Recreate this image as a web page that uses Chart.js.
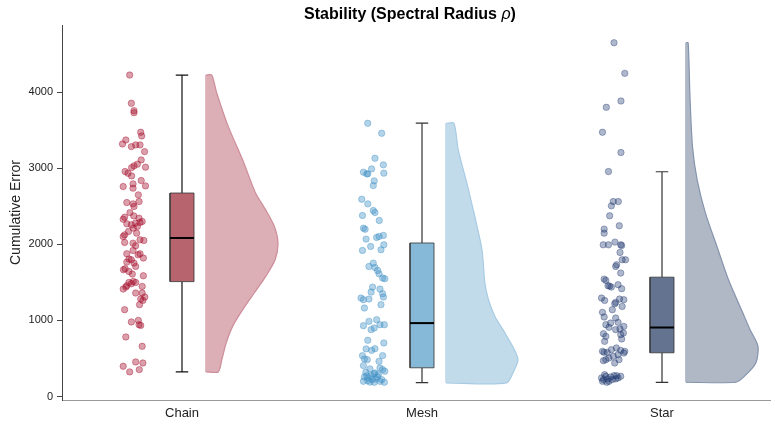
<!DOCTYPE html>
<html>
<head>
<meta charset="utf-8">
<script src="https://cdn.jsdelivr.net/npm/chart.js@4.4.1/dist/chart.umd.min.js"></script>
<style>
  body { margin: 0; background: #fff; }
  canvas { display: block; }
</style>
</head>
<body>
<canvas id="rain" width="775" height="424"></canvas>
<script>
const categories = ["Chain", "Mesh", "Star"]
const yTicks = [0, 1000, 2000, 3000, 4000]

// raw points (value) with horizontal jitter read from the strip
const chainVals = [4223,3852,3755,3728,3471,3423,3370,3318,3283,3305,3305,3217,3108,3052,3030,3007,3013,2955,2933,2898,
  2837,2793,2758,2737,2767,2649,2548,2531,2561,2496,2416,2356,2373,2343,2329,2269,2256,2278,2286,2299,2234,2212,2168,2124,
  2102,2146,2059,2050,2024,2015,1980,1875,1919,1862,1875,1819,1806,1797,1766,1753,1709,1666,1679,1643,1609,1587,1499,1512,
  1499,1482,1456,1412,1438,1447,1360,1360,1307,1281,1263,1207,1141,980,1001,944,935,783,660,398,324,455,441,354]
const chainJit = [-0.018,-0.011,0,0,0.028,0.032,-0.034,-0.048,-0.011,0.007,0.025,0.044,0.030,0.014,0,-0.010,0.048,-0.037,-0.025,-0.010,
  0.030,-0.004,-0.045,-0.004,0.048,0.018,-0.030,-0.004,0.021,0,-0.017,-0.039,-0.001,0.021,-0.045,-0.030,-0.011,0.006,0.025,0.034,
  0.014,-0.003,-0.023,-0.039,-0.045,0.011,0.025,0.041,-0.039,-0.004,0.007,-0.030,-0.004,0.017,0.025,0.039,-0.021,-0.011,-0.030,0,
  0.007,-0.044,-0.037,-0.021,-0.007,0.039,-0.021,-0.003,0.007,-0.011,-0.030,-0.045,-0.034,0.034,0.034,0.007,0.045,0.028,0.037,0.023,
  -0.039,-0.011,0.018,0.021,0.028,-0.034,0.034,-0.045,-0.018,0.007,0.037,0.022]

const meshVals = [3589,3458,3130,3043,2990,2947,2925,2925,2934,2833,2771,2592,2531,2443,2417,2378,2312,2212,2198,2068,
  2090,2103,2116,1972,1919,1928,1993,1753,1709,1696,1656,1613,1557,1548,1438,1373,1412,1351,1307,1294,1272,1281,1207,1163,
  931,988,879,901,1010,944,944,739,704,626,607,629,538,494,538,485,407,463,363,376,354,319,310,288,332,258,245,223,232,
  201,223,188,188,275,275,300,260,210,200,190]
const meshJit = [-0.026,0.032,0.004,0.039,-0.010,-0.044,-0.030,-0.026,0.041,0.001,-0.003,-0.051,-0.026,-0.003,0.004,-0.048,0.022,-0.044,-0.037,-0.033,
  0.011,0.021,0.039,-0.014,-0.048,0.029,0.041,-0.003,-0.021,0.004,0.015,0.021,0.036,0.045,-0.006,-0.012,0.025,0.036,0.039,-0.054,
  -0.044,-0.021,0.029,-0.040,-0.044,-0.021,-0.012,0.001,0.011,0.025,0.043,-0.026,0.041,-0.033,-0.010,0.004,-0.048,-0.040,0.036,-0.028,
  -0.044,0.021,-0.017,0.025,0.036,-0.034,0.004,0.018,0.045,-0.040,-0.023,-0.007,0.008,-0.044,0.032,0.001,0.043,-0.030,-0.012,0,
  0.015,-0.026,0.025,-0.017]

const starVals = [4647,4245,3882,3799,3471,3205,2955,2561,2561,2505,2374,2243,2199,2146,1993,1993,2029,1993,1984,1893,
  1797,1797,1731,1709,1622,1543,1526,1456,1438,1469,1417,1451,1294,1263,1237,1281,1272,1184,1220,1141,1106,1045,944,966,
  1032,975,922,835,888,879,909,826,791,725,813,757,594,581,581,616,639,607,594,572,551,529,507,485,441,485,472,245,223,
  266,232,258,275,245,266,201,188,223,232,288,201,275]
const starJit = [0,0.045,0.029,-0.032,-0.048,0.029,-0.023,-0.003,0.018,-0.011,-0.018,0.022,-0.041,-0.041,-0.045,-0.023,0.004,0.028,0.032,0.025,
  0.034,0.048,0.011,0.007,0.028,-0.041,-0.034,-0.025,-0.011,0.017,0.032,-0.018,-0.052,-0.039,0.007,0.023,0.041,0.034,0.003,-0.007,
  -0.048,-0.041,-0.034,-0.014,0.007,0.017,0.041,0.039,0.025,0.007,-0.021,-0.044,-0.034,-0.039,0.028,0.032,-0.048,-0.041,-0.028,-0.011,
  0.010,0.028,0.045,0.041,0.017,-0.003,-0.021,0.021,0.003,-0.034,-0.044,-0.052,-0.044,-0.034,-0.025,-0.014,0,0.017,0.028,-0.048,
  -0.030,-0.007,0.007,-0.039,-0.021,0.011]

// box stats per group
const whiskerLo = [324, 182, 186]
const q1 = [1510, 378, 575]
const median = [2083, 965, 907]
const q3 = [2673, 2017, 1568]
const whiskerHi = [4223, 3591, 2953]

// half violin outline: value grid and relative width
const chainKdeY = [4223,3983,3545,3108,2671,2452,2234,2015,1797,1578,1360,1141,922,704,485,324]
const chainKdeW = [0.08,0.15,0.31,0.51,0.69,0.83,0.95,1.0,0.96,0.83,0.67,0.51,0.37,0.28,0.22,0.17]
const meshKdeY = [3589,3239,2802,2365,1928,1491,1272,1053,835,616,485,354,180]
const meshKdeW = [0.11,0.17,0.29,0.40,0.50,0.54,0.59,0.68,0.82,0.95,1.0,0.95,0.84]
const starKdeY = [4647,3939,3283,2846,2409,1971,1534,1098,879,660,442,266,188]
const starKdeW = [0.03,0.055,0.09,0.155,0.27,0.43,0.59,0.79,0.89,1.0,0.97,0.81,0.69]

const pointCol = ["165,15,45", "66,146,198", "30,55,110"]
const pointAlpha = [0.4, 0.4, 0.36]
const boxCol = ["#b8646f", "#86b9d8", "#637390"]
const violinFill = ["#dcaeb6", "#c2dbeb", "#b0b8c6"]
const violinEdge = ["#cd8d99", "#a8cbe3", "#8594ad"]

const groups = [
  {vals: chainVals, jit: chainJit, ky: chainKdeY, kw: chainKdeW},
  {vals: meshVals, jit: meshJit, ky: meshKdeY, kw: meshKdeW},
  {vals: starVals, jit: starJit, ky: starKdeY, kw: starKdeW}
]

const FONT = "'Liberation Sans', Arial, sans-serif"
Chart.defaults.font.family = FONT

const boxHalf = 0.05, capHalf = 0.026, violinStart = 0.1, violinWidth = 0.3, stripOff = -0.2
const gap = {x: NaN, y: NaN}

const datasets = []
groups.forEach((g, i) => {
  // box + whiskers + median on top
  datasets.push({
    label: "median" + i, order: 0, showLine: true, pointRadius: 0, borderColor: "#000", borderWidth: 2,
    data: [{x: i - boxHalf, y: median[i]}, {x: i + boxHalf, y: median[i]}]
  })
  datasets.push({
    label: "box" + i, order: 1, showLine: true, pointRadius: 0, fill: "shape",
    backgroundColor: boxCol[i], borderColor: "rgba(60,60,60,0.85)", borderWidth: 1,
    data: [{x: i - boxHalf, y: q1[i]}, {x: i + boxHalf, y: q1[i]}, {x: i + boxHalf, y: q3[i]},
           {x: i - boxHalf, y: q3[i]}, {x: i - boxHalf, y: q1[i]}]
  })
  datasets.push({
    label: "whisk" + i, order: 2, showLine: true, pointRadius: 0, borderColor: i == 0 ? "#111" : "#333", borderWidth: 1.2,
    spanGaps: false,
    data: [{x: i, y: whiskerLo[i]}, {x: i, y: q1[i]}, gap, {x: i, y: q3[i]}, {x: i, y: whiskerHi[i]}, gap,
           {x: i - capHalf, y: whiskerLo[i]}, {x: i + capHalf, y: whiskerLo[i]}, gap,
           {x: i - capHalf, y: whiskerHi[i]}, {x: i + capHalf, y: whiskerHi[i]}]
  })
  // jittered strip
  datasets.push({
    label: "pts" + i, order: 3, showLine: false, pointRadius: 3.2,
    backgroundColor: "rgba(" + pointCol[i] + "," + pointAlpha[i] + ")",
    borderColor: "rgba(" + pointCol[i] + "," + pointAlpha[i] + ")", borderWidth: 1,
    data: g.vals.map((v, k) => ({x: i + stripOff + g.jit[k], y: v}))
  })
  // half violin
  const x0 = i + violinStart
  const top = g.ky[0], bot = g.ky[g.ky.length - 1]
  const outline = [{x: x0, y: top}].concat(g.ky.map((v, k) => ({x: x0 + violinWidth * g.kw[k], y: v})), [{x: x0, y: bot}])
  datasets.push({
    label: "kde" + i, order: 4, showLine: true, pointRadius: 0, fill: "shape", tension: 0.25,
    backgroundColor: violinFill[i], borderColor: violinEdge[i], borderWidth: 1.2,
    data: outline
  })
  datasets.push({
    label: "kdeEdge" + i, order: 4, showLine: true, pointRadius: 0, borderColor: violinEdge[i], borderWidth: 1.2,
    data: [{x: x0, y: bot}, {x: x0, y: top}]
  })
})

const titlePlugin = {
  id: "titlePlugin",
  afterDraw(chart) {
    const ctx = chart.ctx
    const parts = [["bold 16px " + FONT, "Stability (Spectral Radius "], ["italic 16px " + FONT, "\u03c1"], ["bold 16px " + FONT, ")"]]
    let total = 0
    parts.forEach(p => { ctx.font = p[0]; total += ctx.measureText(p[1]).width })
    let x = 410 - total / 2
    ctx.save()
    ctx.fillStyle = "#000"
    ctx.textBaseline = "alphabetic"
    parts.forEach(p => { ctx.font = p[0]; ctx.fillText(p[1], x, 19); x += ctx.measureText(p[1]).width })
    ctx.restore()
  }
}

new Chart(document.getElementById("rain"), {
  type: "scatter",
  data: {datasets: datasets},
  options: {
    responsive: false,
    animation: false,
    layout: {padding: {top: 25, left: 0, right: 0, bottom: 0}},
    plugins: {legend: {display: false}, tooltip: {enabled: false}},
    scales: {
      x: {
        type: "linear", min: -0.5, max: 2.45,
        afterBuildTicks: ax => { ax.ticks = categories.map((c, i) => ({value: i})) },
        afterFit: ax => { ax.height = 24 },
        grid: {display: false, drawTicks: false},
        border: {display: true, color: "#999", width: 1},
        ticks: {callback: v => categories[v], color: "#222", font: {size: 13}, padding: 6, maxRotation: 0}
      },
      y: {
        min: -45, max: 4880,
        afterBuildTicks: ax => { ax.ticks = yTicks.map(v => ({value: v})) },
        afterFit: ax => { ax.width = 62 },
        grid: {display: true, drawOnChartArea: false, drawTicks: true, tickLength: 5, color: "#444"},
        border: {display: true, color: "#444", width: 1},
        ticks: {color: "#222", font: {size: 11}, padding: 4, callback: v => String(v)},
        title: {display: true, text: "Cumulative Error", color: "#222", font: {size: 14}, padding: {top: 8, bottom: 0}}
      }
    }
  },
  plugins: [titlePlugin]
})
</script>
</body>
</html>
